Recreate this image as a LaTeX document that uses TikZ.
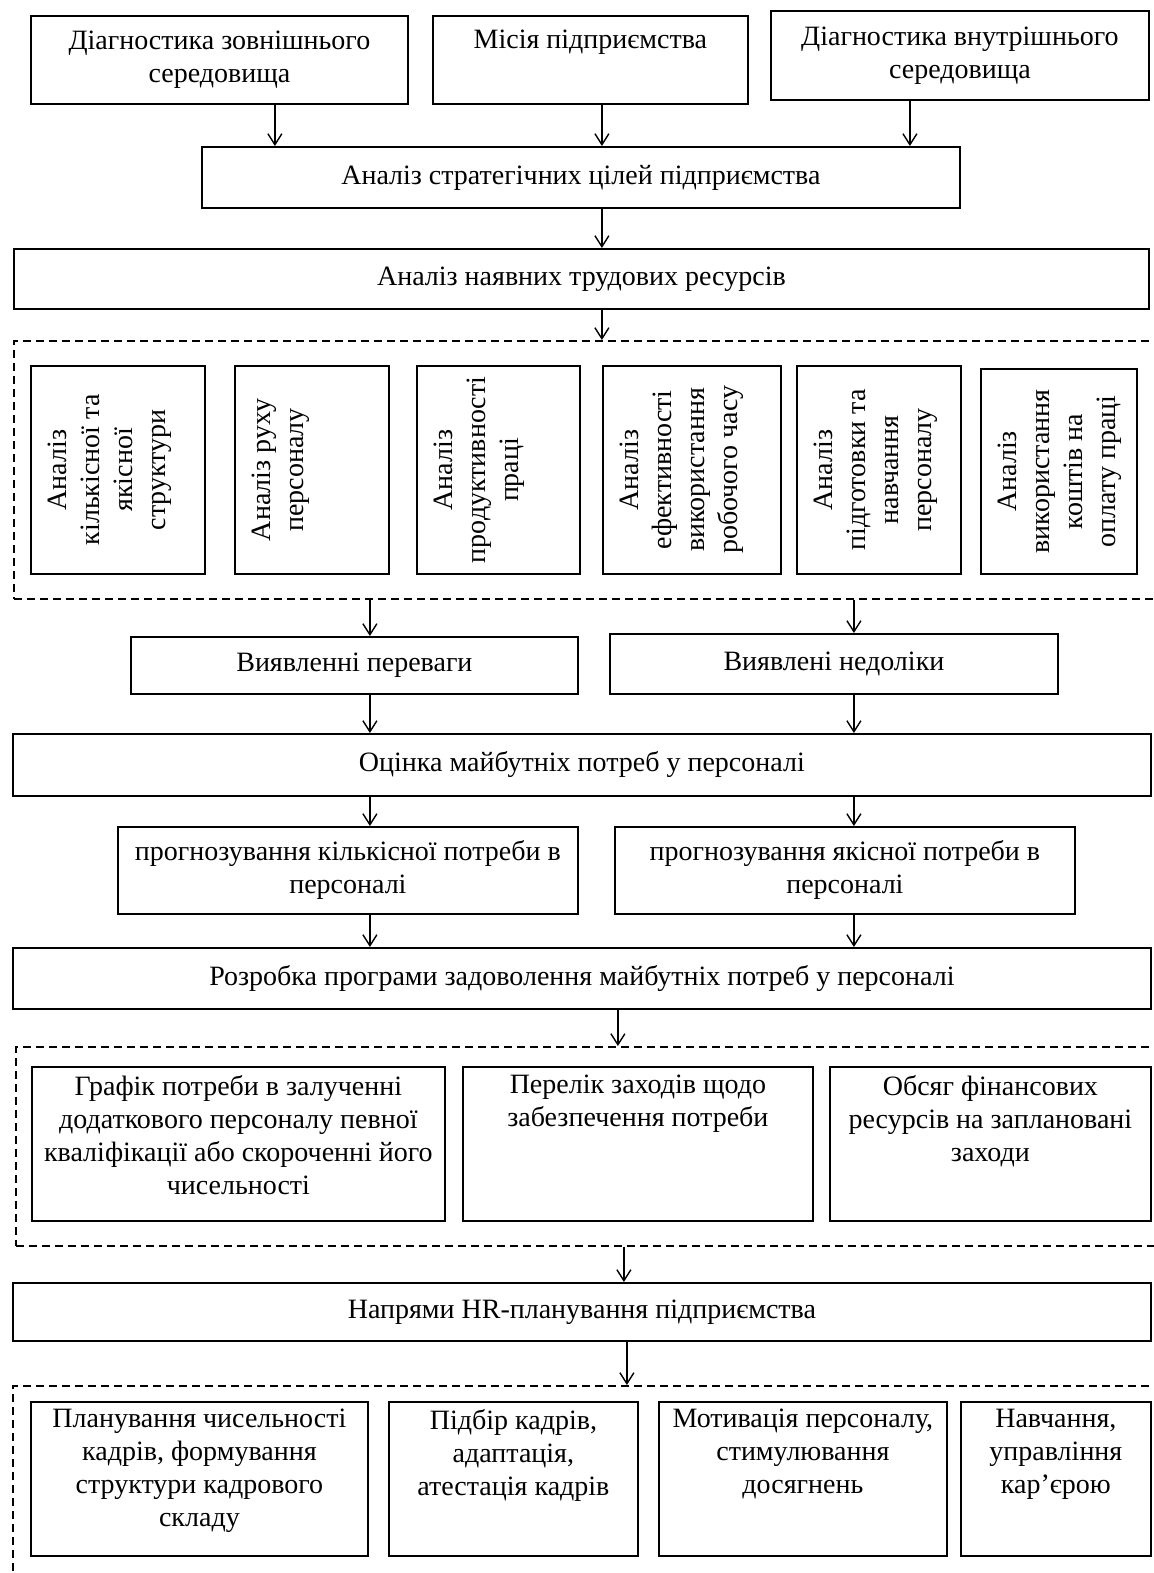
\documentclass[tikz,border=0pt]{standalone}
\usepackage{fontspec}
\setmainfont{Liberation Serif}
\usetikzlibrary{positioning}
\usetikzlibrary{arrows.meta}

\begin{document}
\begin{tikzpicture}[x=0.5pt,y=-0.5pt,
    box/.style={draw,line width=0.9pt,anchor=north west,inner sep=0pt,align=center,font=\fontsize{14}{16.5}\selectfont},
    txt/.style={inner sep=0pt,align=center,font=\fontsize{14}{16.5}\selectfont},
    vtxt/.style={txt,rotate=90,anchor=north},
    group/.style={draw,dash pattern=on 4pt off 2.5pt,line width=0.9pt,anchor=north west,inner sep=0pt},
    arr/.style={-{Straight Barb[length=5.5pt,width=7pt]},line width=0.7pt}]
  \useasboundingbox (0,0) rectangle (1154,1573);

  % top row
  \node[box,minimum width=188.5pt,minimum height=44pt] (ext) at (30,15) {Діагностика зовнішнього\\середовища};
  \node[box,minimum width=157.5pt,minimum height=44pt] (mis) at (432,15) {};
  \node[txt,below=7.5pt of mis.north] (tmis) {Місія підприємства};
  \node[box,minimum width=189pt,minimum height=44.5pt] (int) at (770,10) {Діагностика внутрішнього\\середовища};
  \node[box,minimum width=379pt,minimum height=30.5pt] (goals) at (201,146) {Аналіз стратегічних цілей підприємства};
  \node[box,minimum width=567.5pt,minimum height=30pt] (res) at (13,248) {Аналіз наявних трудових ресурсів};
  \draw[arr] ([xshift=27.75pt]ext.south) -- ([xshift=27.75pt]ext.south |- goals.north);
  \draw[arr] ([xshift=5.75pt]mis.south) -- ([xshift=5.75pt]mis.south |- goals.north);
  \draw[arr] ([xshift=-25pt]int.south) -- ([xshift=-25pt]int.south |- goals.north);
  \draw[arr] ([xshift=10.5pt]goals.south) -- ([xshift=10.5pt]goals.south |- res.north);

  % analysis of resources
  \node[group,minimum width=580pt,minimum height=129pt] (g1) at (13,340) {};
  \draw[arr] ([xshift=10.25pt]res.south) -- ([xshift=10.25pt]res.south |- g1.north);
  \foreach \n/\x/\y/\w/\h/\ttl in {
      1/30/365/87/104/{Аналіз\\кількісної та\\якісної\\структури},
      2/234/365/77/104/{Аналіз руху\\персоналу},
      3/416/365/81.5/104/{Аналіз\\продуктивності\\праці},
      4/602/365/89/104/{Аналіз\\ефективності\\використання\\робочого часу},
      5/796/365/82/104/{Аналіз\\підготовки та\\навчання\\персоналу},
      6/980/368/78/102.5/{Аналіз\\використання\\коштів на\\оплату праці}} {
    \node[box,minimum width=\w pt,minimum height=\h pt] (v\n) at (\x,\y) {};
    \node[vtxt] (tv\n) at ([xshift=9pt]v\n.west) {\ttl};
  }

  \node[box,minimum width=223.5pt,minimum height=28.5pt] (adv) at (130,636) {Виявленні переваги};
  \node[box,minimum width=224pt,minimum height=30pt] (dis) at (609,633) {Виявлені недоліки};
  \draw[arr] ([xshift=7.75pt]adv.north |- g1.south) -- ([xshift=7.75pt]adv.north);
  \draw[arr] ([xshift=10pt]dis.north |- g1.south) -- ([xshift=10pt]dis.north);

  \node[box,minimum width=569pt,minimum height=31pt] (est) at (12,733) {Оцінка майбутніх потреб у персоналі};
  \draw[arr] ([xshift=7.75pt]adv.south) -- ([xshift=7.75pt]adv.south |- est.north);
  \draw[arr] ([xshift=10pt]dis.south) -- ([xshift=10pt]dis.south |- est.north);

  \node[box,minimum width=230pt,minimum height=43.5pt] (fq) at (117,826) {прогнозування кількісної потреби в\\персоналі};
  \node[box,minimum width=230pt,minimum height=43.5pt] (fk) at (614,826) {прогнозування якісної потреби в\\персоналі};
  \draw[arr] ([xshift=11pt]fq.north |- est.south) -- ([xshift=11pt]fq.north);
  \draw[arr] ([xshift=4.5pt]fk.north |- est.south) -- ([xshift=4.5pt]fk.north);

  \node[box,minimum width=569pt,minimum height=30.5pt] (prog) at (12,947) {Розробка програми задоволення майбутніх потреб у персоналі};
  \draw[arr] ([xshift=11pt]fq.south) -- ([xshift=11pt]fq.south |- prog.north);
  \draw[arr] ([xshift=4.5pt]fk.south) -- ([xshift=4.5pt]fk.south |- prog.north);

  % programme
  \node[group,minimum width=578pt,minimum height=99.5pt] (g2) at (15,1046) {};
  \draw[arr] ([xshift=18pt]prog.south) -- ([xshift=18pt]prog.south |- g2.north);
  \foreach \n/\x/\w/\ttl in {
      1/31/206.5/{Графік потреби в залученні\\додаткового персоналу певної\\кваліфікації або скороченні його\\чисельності},
      2/462/175/{Перелік заходів щодо\\забезпечення потреби},
      3/829/160.5/{Обсяг фінансових\\ресурсів на заплановані\\заходи}} {
    \node[box,minimum width=\w pt,minimum height=77pt] (p\n) at (\x,1066) {};
    \node[txt,below=4.5pt of p\n.north] (tp\n) {\ttl};
  }

  \node[box,minimum width=569pt,minimum height=29pt] (hr) at (12,1282) {Напрями HR-планування підприємства};
  \draw[arr] ([xshift=21pt]hr.north |- g2.south) -- ([xshift=21pt]hr.north);

  % directions
  \node[group,minimum width=580pt,minimum height=110pt] (g3) at (12,1385) {};
  \draw[arr] ([xshift=22.5pt]hr.south) -- ([xshift=22.5pt]hr.south |- g3.north);
  \foreach \n/\x/\w/\ttl in {
      1/30/168.5/{Планування чисельності\\кадрів, формування\\структури кадрового\\складу},
      2/388/124.5/{Підбір кадрів,\\адаптація,\\атестація кадрів},
      3/658/144/{Мотивація персоналу,\\стимулювання\\досягнень},
      4/960/95/{Навчання,\\управління\\кар’єрою}} {
    \node[box,minimum width=\w pt,minimum height=77pt] (d\n) at (\x,1401) {};
    \node[txt,below=4pt of d\n.north] (td\n) {\ttl};
  }
\end{tikzpicture}
\end{document}
